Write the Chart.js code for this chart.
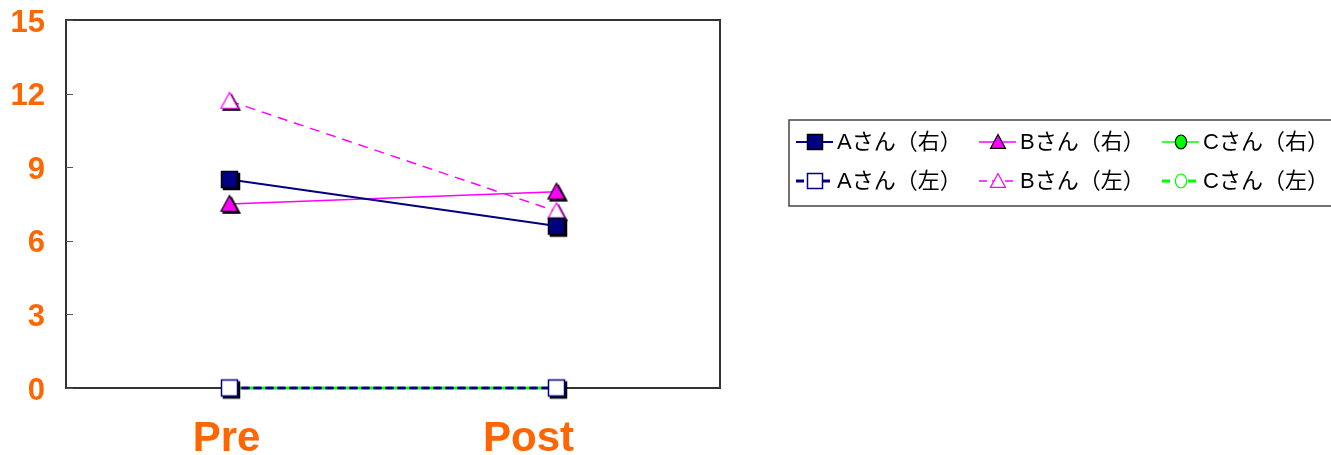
<!DOCTYPE html>
<html>
<head>
<meta charset="utf-8">
<script src="https://cdn.jsdelivr.net/npm/chart.js@4/dist/chart.umd.min.js"></script>
<style>
  html, body { margin: 0; padding: 0; background: #fff; }
  #wrap { width: 1331px; height: 455px; position: relative; }
</style>
</head>
<body>
<div id="wrap"><canvas id="c"></canvas></div>
<script>
// Categories, tick values and series
const categories = ['Pre', 'Post'];
const yTicks = [0, 3, 6, 9, 12, 15];
const seriesNames = ['Aさん（右）', 'Bさん（右）', 'Cさん（右）', 'Aさん（左）', 'Bさん（左）', 'Cさん（左）'];
const aRight = [8.5, 6.6];
const bRight = [7.5, 8.0];
const cRight = [null, null];
const aLeft = [0, 0];
const bLeft = [11.7, 7.2];
const cLeft = [0, 0];

const NAVY = '#000080', MAGENTA = '#FF00FF', GREEN = '#00FF00', ORANGE = '#FF6600';
const LATIN = '"Liberation Sans", Arial, sans-serif';

// Marker outlines
function shapePath(ctx, shape, r) {
  ctx.beginPath();
  if (shape === 'square') {
    ctx.rect(-r, -r, 2 * r, 2 * r);
  } else if (shape === 'triangle') {
    ctx.moveTo(0, -r);
    ctx.lineTo(r, r * 0.85);
    ctx.lineTo(-r, r * 0.85);
    ctx.closePath();
  } else {
    ctx.ellipse(0, 0, r * 0.8, r, 0, 0, Math.PI * 2);
  }
}
function drawShape(ctx, spec, cx, cy, r, shadow) {
  ctx.save();
  ctx.translate(cx, cy);
  if (shadow) {
    ctx.save();
    ctx.translate(2, 2);
    shapePath(ctx, spec.shape, r);
    ctx.fillStyle = '#000';
    ctx.fill();
    ctx.lineWidth = spec.lw;
    ctx.strokeStyle = '#000';
    ctx.stroke();
    ctx.restore();
  }
  shapePath(ctx, spec.shape, r);
  ctx.fillStyle = spec.fill;
  ctx.fill();
  ctx.lineWidth = spec.lw;
  ctx.strokeStyle = spec.stroke;
  ctx.stroke();
  ctx.restore();
}
function markerCanvas(spec) {
  const size = Math.ceil(spec.r * 2 + 9);
  const c = document.createElement('canvas');
  c.width = size; c.height = size;
  drawShape(c.getContext('2d'), spec, size / 2, size / 2, spec.r, true);
  return c;
}

const markers = [
  { shape: 'square',   fill: NAVY,    stroke: '#000',  lw: 1.5, r: 8 },
  { shape: 'triangle', fill: MAGENTA, stroke: '#000',  lw: 1.2, r: 8.5 },
  { shape: 'circle',   fill: GREEN,   stroke: '#000',  lw: 1.2, r: 7.5 },
  { shape: 'square',   fill: '#fff',  stroke: NAVY,    lw: 1.5, r: 8 },
  { shape: 'triangle', fill: '#fff',  stroke: MAGENTA, lw: 1.2, r: 8.5 },
  { shape: 'circle',   fill: '#fff',  stroke: GREEN,   lw: 1.2, r: 7.5 }
];
const lineStyles = [
  { color: NAVY,    width: 2,   dash: [] },
  { color: MAGENTA, width: 1.5, dash: [] },
  { color: GREEN,   width: 1.5, dash: [] },
  { color: NAVY,    width: 3,   dash: [8, 4] },
  { color: MAGENTA, width: 1.5, dash: [10, 7] },
  { color: GREEN,   width: 3,   dash: [4, 8] }
];
const seriesData = [aRight, bRight, cRight, aLeft, bLeft, cLeft];

const datasets = seriesData.map((d, i) => ({
  label: seriesNames[i],
  data: d,
  borderColor: lineStyles[i].color,
  borderWidth: lineStyles[i].width,
  borderDash: lineStyles[i].dash,
  borderDashOffset: i === 5 ? -8 : 0,
  backgroundColor: markers[i].fill,
  pointStyle: markerCanvas(markers[i]),
  pointRadius: markers[i].r,
  tension: 0,
  clip: false
}));

// Plot frame and inward y ticks
const framePlugin = {
  id: 'frame',
  beforeDatasetsDraw(chart) {
    const { ctx, chartArea: a, scales } = chart;
    ctx.save();
    ctx.strokeStyle = '#333';
    ctx.lineWidth = 2;
    ctx.strokeRect(a.left, a.top, a.right - a.left, a.bottom - a.top);
    ctx.lineWidth = 1;
    ctx.strokeStyle = '#555';
    scales.y.ticks.forEach(t => {
      const y = Math.round(scales.y.getPixelForValue(t.value)) + 0.5;
      ctx.beginPath();
      ctx.moveTo(a.left, y);
      ctx.lineTo(a.left + 7, y);
      ctx.stroke();
    });
    ctx.restore();
  }
};

// Category labels under the plot; the second one sits left of its point
const catLabelShift = [-3, -28];
const categoryLabelPlugin = {
  id: 'catLabels',
  afterDraw(chart) {
    const { ctx, scales } = chart;
    ctx.save();
    ctx.fillStyle = ORANGE;
    ctx.font = 'bold 42px ' + LATIN;
    ctx.textAlign = 'center';
    ctx.textBaseline = 'alphabetic';
    categories.forEach((c, i) => {
      ctx.fillText(c, scales.x.getPixelForValue(i) + catLabelShift[i], 451);
    });
    ctx.restore();
  }
};

// Boxed legend, two rows of three
const legendPlugin = {
  id: 'boxLegend',
  afterDraw(chart) {
    const ctx = chart.ctx;
    const box = { x: 789, y: 120, w: 560, h: 86 };
    const cols = [796, 979, 1162];
    const rows = [142, 181];
    ctx.save();
    ctx.fillStyle = '#fff';
    ctx.fillRect(box.x, box.y, box.w, box.h);
    ctx.strokeStyle = '#444';
    ctx.lineWidth = 1.5;
    ctx.strokeRect(box.x, box.y, box.w, box.h);
    chart.data.datasets.forEach((ds, i) => {
      const x = cols[i % 3], y = rows[Math.floor(i / 3)];
      ctx.save();
      ctx.strokeStyle = ds.borderColor;
      ctx.lineWidth = ds.borderWidth;
      ctx.setLineDash(ds.borderDash.length ? [8, 5] : []);
      ctx.beginPath();
      ctx.moveTo(x, y);
      ctx.lineTo(x + 37, y);
      ctx.stroke();
      ctx.restore();
      const m = markers[i];
      drawShape(ctx, m, x + 19, y, m.shape === 'circle' ? 7 : 7.5, false);
      ctx.fillStyle = '#000';
      ctx.font = '22px ' + LATIN + ', "Noto Sans CJK JP"';
      ctx.textBaseline = 'middle';
      ctx.textAlign = 'left';
      ctx.fillText(ds.label, x + 41, y + 1);
    });
    ctx.restore();
  }
};

new Chart(document.getElementById('c'), {
  type: 'line',
  data: { labels: categories, datasets },
  options: {
    responsive: true,
    maintainAspectRatio: false,
    animation: false,
    events: [],
    layout: { padding: { top: 20, right: 611, left: 0, bottom: 0 } },
    plugins: { legend: { display: false }, tooltip: { enabled: false } },
    scales: {
      x: {
        offset: true,
        grid: { display: false, drawTicks: false },
        border: { display: false },
        ticks: { display: false },
        afterFit(s) { s.height = 67; s.paddingLeft = 0; s.paddingRight = 0; }
      },
      y: {
        min: 0, max: 15,
        afterBuildTicks(s) { s.ticks = yTicks.map(v => ({ value: v })); },
        grid: { display: false, drawTicks: false },
        border: { display: false },
        ticks: { color: ORANGE, padding: 21, labelOffset: 3, font: { family: LATIN, size: 31, weight: 'bold' } },
        afterFit(s) { s.width = 66; s.paddingTop = 0; s.paddingBottom = 0; }
      }
    }
  },
  plugins: [framePlugin, categoryLabelPlugin, legendPlugin]
});
</script>
</body>
</html>
